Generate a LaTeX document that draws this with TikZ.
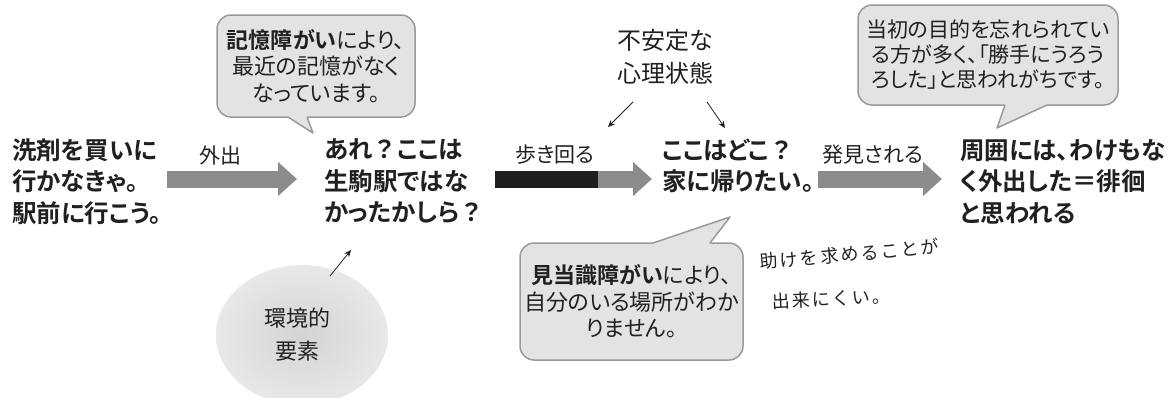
\documentclass[tikz,border=0pt]{standalone}
\usepackage{fontspec}
\setmainfont{Noto Sans CJK JP}[BoldFont={Noto Sans CJK JP Bold},RawFeature=+palt]
\newfontfamily\fwfont{Noto Sans CJK JP}[BoldFont={Noto Sans CJK JP Bold}]
\newfontfamily\handfont{Noto Sans CJK JP}[LetterSpace=12]
\newcommand{\fwq}{{\fwfont ？}}
\usetikzlibrary{arrows.meta,shapes.geometric}
\definecolor{txt}{HTML}{231F20}
\definecolor{arrowgray}{HTML}{8C8C8C}
\definecolor{bubblefill}{HTML}{E3E3E3}
\definecolor{bubbleline}{HTML}{9A9A9A}
\tikzset{
  maintext/.style={text=txt,font=\fontsize{24.5}{31.5}\selectfont\bfseries,align=left,inner sep=0pt,anchor=west},
  lbl/.style={text=txt,font=\fontsize{21}{26}\selectfont,inner sep=0pt},
  bubble/.style={draw=bubbleline,line width=1.5pt,fill=bubblefill,rounded corners=14pt,align=center,text=txt,font=\fontsize{22}{26.5}\selectfont,inner sep=0pt},
  tailfill/.style={fill=bubblefill},
  tailline/.style={draw=bubbleline,line width=1.5pt,line join=round},
  blockarrow/.style={line width=17pt,draw=arrowgray,-{Triangle[length=19pt,width=33pt]}},
  thinarrow/.style={draw=txt,line width=0.8pt,-{Stealth[length=7pt,width=6pt]}},
  hand/.style={text=txt,font=\handfont\fontsize{18}{26}\selectfont,inner sep=0pt,anchor=west},
}
\begin{document}
\begin{tikzpicture}[x=1pt,y=-1pt]
\useasboundingbox (0,0) rectangle (1176,397);

% main statements
\node[maintext] (n1) at (12,181.5) {洗剤を買いに\\行かなきゃ。\\駅前に行こう。};
\node[maintext] (n2) at (324,181.5) {あれ\fwq ここは\\生駒駅ではな\\かったかしら\fwq};
\node[maintext] (n3) at (662,165.75) {ここはどこ\fwq\\家に帰りたい。};
\node[maintext] (n4) at (960,181.5) {周囲には、わけもな\\く外出した＝徘徊\\と思われる};

% block arrows
\coordinate (a1s) at (167,179);
\coordinate (a1e) at (297,179);
\draw[blockarrow] (a1s) -- (a1e);
\node[lbl] (l1) at (220,156) {外出};

\coordinate (a2s) at (495,179);
\coordinate (a2e) at (652,179);
\draw[blockarrow] (a2s) -- (a2e);
\fill[black!88] (a2s) ++(0,-8.5) rectangle (598,187.5);
\node[lbl] (l2) at (555,155) {歩き回る};

\coordinate (a3s) at (818,179);
\coordinate (a3e) at (942,179);
\draw[blockarrow] (a3s) -- (a3e);
\node[lbl] (l3) at (873,155) {発見される};

% unstable mind
\node[text=txt,font=\fontsize{24}{33}\selectfont,align=center,inner sep=0pt] (q) at (665,57) {不安定な\\心理状態};
\coordinate (q1s) at (633,102);
\coordinate (q1e) at (608,127);
\coordinate (q2s) at (707,102);
\coordinate (q2e) at (725,128);
\draw[thinarrow] (q1s) -- (q1e);
\draw[thinarrow] (q2s) -- (q2e);

% environment
\node[ellipse,minimum width=172pt,minimum height=140pt,inner color=black!17,outer color=black!9,inner sep=0pt] (env) at (302,335) {};
\node[text=txt,font=\fontsize{22}{33}\selectfont,align=center,inner sep=0pt] (envt) at (297,335) {環境的\\要素};
\coordinate (e1s) at (330,276);
\coordinate (e1e) at (351,250);
\draw[thinarrow] (e1s) -- (e1e);

% bubble 1
\node[bubble,minimum width=198pt,minimum height=102pt] (b1) at (316,66) {{\bfseries 記憶障がい}により、\\最近の記憶がなく\\なっています。};
\fill[tailfill] (288,113) -- (288,117) -- (313,133) -- (307,117) -- (307,113) -- cycle;
\draw[tailline] (288,117) -- (313,133) -- (307,117);

% bubble 2
\node[bubble,minimum width=223pt,minimum height=117pt] (b2) at (631.5,301.5) {{\bfseries 見当識障がい}により、\\自分のいる場所がわか\\りません。};
\fill[tailfill] (653,247) -- (653,243) -- (730,217) -- (710,243) -- (710,247) -- cycle;
\draw[tailline] (653,243) -- (730,217) -- (710,243);

% bubble 3
\node[bubble,font=\fontsize{21}{25}\selectfont,minimum width=260pt,minimum height=100pt] (b3) at (988,55) {当初の目的を忘れられてい\\る方が多く、「勝手にうろう\\ろした」と思われがちです。};
\fill[tailfill] (1005,101) -- (1005,105) -- (997,128) -- (1047,105) -- (1047,101) -- cycle;
\draw[tailline] (1005,105) -- (997,128) -- (1047,105);

% handwritten note
\node[hand,rotate=5] (h1) at (760,262) {助けを求めることが};
\node[hand,rotate=3] (h2) at (772,302) {出来にくい。};
\end{tikzpicture}
\end{document}
